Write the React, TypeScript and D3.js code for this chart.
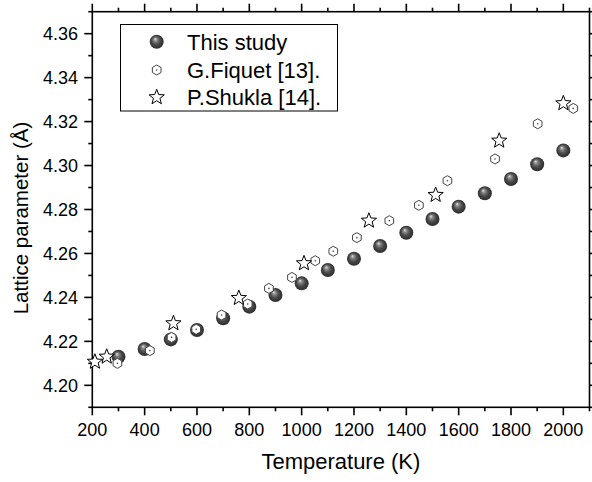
import React from "react";
import * as d3 from "d3";

const studyT = [300, 400, 500, 600, 700, 800, 900, 1000, 1100, 1200, 1300, 1400, 1500, 1600, 1700, 1800, 1900, 2000];
const studyA = [4.2130, 4.2165, 4.2209, 4.2252, 4.2305, 4.2358, 4.2411, 4.2464, 4.2525, 4.2576, 4.2634, 4.2694, 4.2757, 4.2813, 4.2874, 4.2939, 4.3006, 4.3069];

const fiquetT = [296, 420, 503, 597, 694, 794, 875, 963, 1052, 1121, 1211, 1335, 1448, 1557, 1739, 1902, 2038];
const fiquetA = [4.2100, 4.2158, 4.2218, 4.2255, 4.2320, 4.2370, 4.2441, 4.2491, 4.2567, 4.2610, 4.2672, 4.2749, 4.2819, 4.2931, 4.3030, 4.3190, 4.3260];

const shuklaT = [210, 255, 510, 760, 1009, 1257, 1512, 1755, 2000];
const shuklaA = [4.2107, 4.2130, 4.2282, 4.2397, 4.2555, 4.2749, 4.2866, 4.3113, 4.3283];

const xMajor = [200, 400, 600, 800, 1000, 1200, 1400, 1600, 1800, 2000];
const xMinor = [300, 500, 700, 900, 1100, 1300, 1500, 1700, 1900, 2100];
const yMajor = [4.20, 4.22, 4.24, 4.26, 4.28, 4.30, 4.32, 4.34, 4.36];
const yMinor = [4.19, 4.21, 4.23, 4.25, 4.27, 4.29, 4.31, 4.33, 4.35, 4.37];

const legendLabels = ["This study", "G.Fiquet [13].", "P.Shukla [14]."];

const FONT = "'Liberation Sans', Arial, Helvetica, sans-serif";

function hexPath(r: number) {
  const pts: [number, number][] = [];
  for (let i = 0; i < 6; i++) {
    const a = (Math.PI / 3) * i - Math.PI / 2;
    pts.push([r * Math.cos(a), r * Math.sin(a)]);
  }
  return d3.line()(pts.concat([pts[0]])) + "Z";
}

function starPath(ro: number, ri: number) {
  const pts: [number, number][] = [];
  for (let i = 0; i < 10; i++) {
    const r = i % 2 === 0 ? ro : ri;
    const a = (Math.PI / 5) * i - Math.PI / 2;
    pts.push([r * Math.cos(a), r * Math.sin(a)]);
  }
  return d3.line()(pts) + "Z";
}

const HEX = hexPath(5);
const STAR = starPath(8, 3.4);

function Sphere({ x, y }: { x: number; y: number }) {
  return <circle cx={x} cy={y} r={7} fill="url(#sphereGrad)" />;
}
function Hex({ x, y }: { x: number; y: number }) {
  return (
    <g transform={`translate(${x},${y})`}>
      <path d={HEX} fill="#fff" stroke="#444" strokeWidth={1} />
      <circle r={0.8} fill="#444" />
    </g>
  );
}
function Star({ x, y }: { x: number; y: number }) {
  return (
    <path transform={`translate(${x},${y})`} d={STAR} fill="#fff" stroke="#000" strokeWidth={1} strokeLinejoin="miter" />
  );
}

export default function App() {
  const x = d3.scaleLinear().domain([200, 2100]).range([92.3, 589.5]);
  const y = d3.scaleLinear().domain([4.19, 4.37]).range([407.3, 11.7]);
  const [x0, x1] = x.range();
  const [y0, y1] = y.range();
  const sw = 1.6;

  return (
    <svg width={592} height={482} style={{ position: "absolute", left: 0, top: 0, background: "#fff" }} fontFamily={FONT}>
      <defs>
        <radialGradient id="sphereGrad" cx="50%" cy="50%" r="55%" fx="38%" fy="30%">
          <stop offset="0%" stopColor="#e8e8e8" />
          <stop offset="22%" stopColor="#8a8a8a" />
          <stop offset="55%" stopColor="#4a4a4a" />
          <stop offset="100%" stopColor="#262626" />
        </radialGradient>
      </defs>
      <rect width={592} height={482} fill="#fff" />

      {/* frame */}
      <rect x={x0} y={y1} width={x1 - x0} height={y0 - y1} fill="none" stroke="#000" strokeWidth={sw} />

      {/* x ticks bottom & top */}
      {xMajor.map((t) => (
        <g key={"xM" + t}>
          <line x1={x(t)} x2={x(t)} y1={y0} y2={y0 + 8} stroke="#000" strokeWidth={sw} />
          <line x1={x(t)} x2={x(t)} y1={y1} y2={y1 - 8} stroke="#000" strokeWidth={sw} />
          <text x={x(t)} y={436} textAnchor="middle" fontSize={18} fill="#000">{t}</text>
        </g>
      ))}
      {xMinor.map((t) => (
        <g key={"xm" + t}>
          <line x1={x(t)} x2={x(t)} y1={y0} y2={y0 + 4} stroke="#000" strokeWidth={sw} />
          <line x1={x(t)} x2={x(t)} y1={y1} y2={y1 - 4} stroke="#000" strokeWidth={sw} />
        </g>
      ))}

      {/* y ticks left & right */}
      {yMajor.map((t) => (
        <g key={"yM" + t}>
          <line x1={x0} x2={x0 - 8} y1={y(t)} y2={y(t)} stroke="#000" strokeWidth={sw} />
          <line x1={x1} x2={x1 + 8} y1={y(t)} y2={y(t)} stroke="#000" strokeWidth={sw} />
          <text x={78} y={y(t)} dy="0.36em" textAnchor="end" fontSize={18} fill="#000">{t.toFixed(2)}</text>
        </g>
      ))}
      {yMinor.map((t) => (
        <g key={"ym" + t}>
          <line x1={x0} x2={x0 - 4} y1={y(t)} y2={y(t)} stroke="#000" strokeWidth={sw} />
          <line x1={x1} x2={x1 + 4} y1={y(t)} y2={y(t)} stroke="#000" strokeWidth={sw} />
        </g>
      ))}

      {/* axis titles */}
      <text x={(x0 + x1) / 2} y={469} textAnchor="middle" fontSize={22} fill="#000">Temperature (K)</text>
      <text transform={`translate(28,${218}) rotate(-90)`} textAnchor="middle" fontSize={20.5} fill="#000">Lattice parameter (Å)</text>

      {/* data */}
      {studyT.map((t, i) => <Sphere key={"s" + i} x={x(t)} y={y(studyA[i])} />)}
      {fiquetT.map((t, i) => <Hex key={"f" + i} x={x(t)} y={y(fiquetA[i])} />)}
      {shuklaT.map((t, i) => <Star key={"p" + i} x={x(t)} y={y(shuklaA[i])} />)}

      {/* legend */}
      <rect x={120.5} y={24.5} width={217} height={86.5} fill="#fff" stroke="#000" strokeWidth={1} />
      <Sphere x={156.7} y={41.7} />
      <Hex x={156.7} y={70} />
      <Star x={156.7} y={97.3} />
      {legendLabels.map((l, i) => (
        <text key={l} x={187} y={[41.7, 70, 97.3][i]} dy="0.36em" fontSize={22} fill="#000">{l}</text>
      ))}
    </svg>
  );
}
